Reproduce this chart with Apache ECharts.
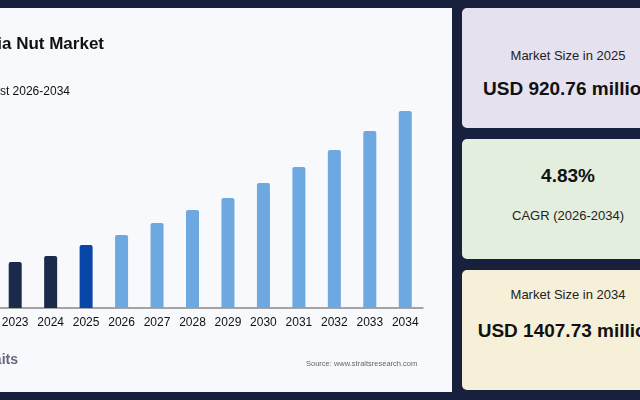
<!DOCTYPE html>
<html><head><meta charset="utf-8">
<script src="https://cdn.jsdelivr.net/npm/echarts@6/dist/echarts.min.js"></script>
<style>
body{margin:0;width:640px;height:400px;overflow:hidden;background:#17213d;font-family:"Liberation Sans",Arial,sans-serif;position:relative}
#panel{position:absolute;left:0;top:8px;width:452px;height:384px;background:#f8f9fc;overflow:hidden}
.t{position:absolute;right:348px;white-space:nowrap;color:#111}
#chart{position:absolute;left:-60px;top:0;width:520px;height:384px}
.box{position:absolute;left:462px;width:212px;height:120px;border-radius:5px;text-align:center;color:#111}
.s{font-size:13px;color:#222}
.b{font-size:19px;font-weight:bold}
</style></head><body>
<div id="panel">
  <div id="chart"></div>
  <div class="t" style="top:26px;font-size:17px;font-weight:bold;right:348px">Macadamia Nut Market</div>
  <div class="t" style="top:76px;font-size:12px;right:382px">Market Size &amp; Forecast 2026-2034</div>
  <div class="t" style="top:343px;font-size:14px;color:#667;right:434px;font-weight:bold">Straits</div>
  <div style="position:absolute;left:306px;top:351px;font-size:7.5px;color:#666">Source: www.straitsresearch.com</div>
</div>
<div class="box" style="top:8px;background:#e6e1ee"><div class="s" style="margin-top:40px">Market Size in 2025</div><div class="b" style="margin-top:15px">USD 920.76 million</div></div>
<div class="box" style="top:139px;background:#e3eedf"><div class="b" style="margin-top:26px">4.83%</div><div class="s" style="margin-top:21px">CAGR (2026-2034)</div></div>
<div class="box" style="top:270px;background:#f6f0d9"><div class="s" style="margin-top:17px">Market Size in 2034</div><div class="b" style="margin-top:18px">USD 1407.73 million</div></div>
<script>
const years = ['2022','2023','2024','2025','2026','2027','2028','2029','2030','2031','2032','2033','2034'];
const values = [838, 859, 881, 920.76, 957, 1001, 1048, 1092, 1146, 1204, 1266, 1335, 1407.73];
const colorHist = '#1b2a4a', colorBase = '#0a45a8', colorFcst = '#6ea8e0';
const chart = echarts.init(document.getElementById('chart'));
chart.setOption({
  animation: false,
  grid: { left: 22, right: 37, top: 103, bottom: 84 },
  xAxis: {
    type: 'category', data: years,
    axisTick: { show: false },
    axisLine: { lineStyle: { color: '#888', width: 1.5 } },
    axisLabel: { color: '#111', fontSize: 12, margin: 9, interval: 0 }
  },
  yAxis: { type: 'value', min: 692, max: 1407.73, show: false, splitLine: { show: false } },
  series: [{
    type: 'bar', barWidth: 13,
    data: values.map((v, i) => ({
      value: v,
      itemStyle: { color: +years[i] < 2025 ? colorHist : (years[i] === '2025' ? colorBase : colorFcst), borderRadius: [2, 2, 0, 0] }
    }))
  }]
});
</script>
</body></html>
